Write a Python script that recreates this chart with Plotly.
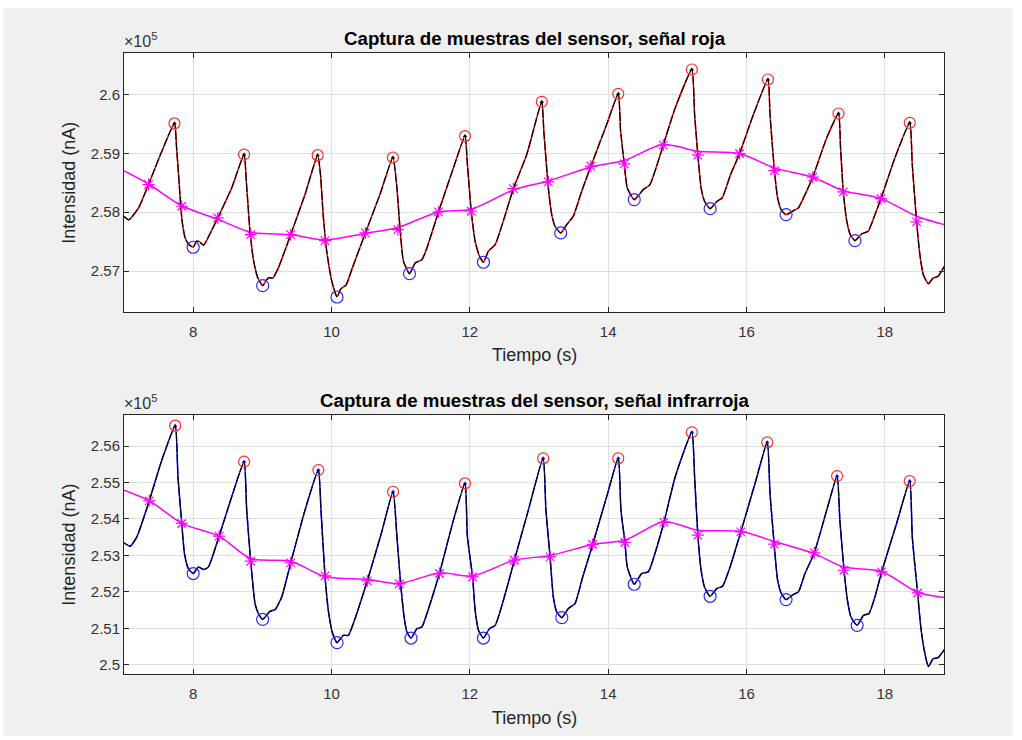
import plotly.graph_objects as go

# ---------------- Señal roja (nA) ----------------
t_roja = [7.00, 7.07, 7.21, 7.354, 7.547, 7.73, 7.76, 7.80, 7.84, 7.885, 7.93, 8.00,
          8.05, 8.09, 8.15, 8.25, 8.355, 8.557, 8.736, 8.77, 8.82, 8.87, 8.93, 9.005,
          9.06, 9.10, 9.15, 9.23, 9.41, 9.617, 9.80, 9.84, 9.88, 9.93, 10.00, 10.08,
          10.13, 10.17, 10.21, 10.30, 10.49, 10.70, 10.888, 10.946, 10.99, 11.04, 11.128,
          11.21, 11.307, 11.38, 11.547, 11.763, 11.93, 11.965, 12.02, 12.077, 12.14, 12.197,
          12.268, 12.366, 12.63, 12.823, 13.04, 13.07, 13.135, 13.184, 13.232, 13.314,
          13.40, 13.496, 13.617, 13.75, 13.978, 14.146, 14.18, 14.233, 14.276, 14.377,
          14.507, 14.604, 14.796, 14.97, 15.21, 15.25, 15.297, 15.344, 15.393, 15.474,
          15.576, 15.648, 15.77, 15.90, 16.10, 16.31, 16.34, 16.404, 16.45, 16.50, 16.572,
          16.68, 16.75, 16.846, 16.958, 17.16, 17.33, 17.36, 17.40, 17.45, 17.50, 17.568,
          17.665, 17.76, 17.857, 17.944, 18.146, 18.36, 18.397, 18.46, 18.507, 18.556, 18.63,
          18.70, 18.77, 18.86]
roja = [257930, 257870, 258073, 258469, 259037, 259510, 259100, 258450, 257850, 257560, 257460, 257405,
        257510, 257500, 257440, 257650, 257903, 258413, 258980, 258500, 257700, 257200, 256900, 256752,
        256850, 256890, 256880, 257050, 257619, 258300, 258970, 258650, 257950, 257350, 256850, 256560,
        256690, 256730, 256760, 257050, 257648, 258300, 258930, 258410, 257730, 257170, 256956,
        257138, 257194, 257393, 258005, 258753, 259293, 258810, 258017, 257507, 257252, 257150,
        257338, 257449, 258401, 258980, 259876, 259378, 258413, 257959, 257762, 257648,
        257789, 257932, 258357, 258782, 259490, 260012, 259378, 258821, 258413, 258214,
        258384, 258469, 259139, 259774, 260425, 259660, 258969, 258413, 258187, 258061,
        258187, 258243, 258640, 258997, 259660, 260255, 259660, 258707, 258243, 258044, 257959,
        258027, 258073, 258299, 258595, 259264, 259677, 259094, 258345, 257847, 257619, 257517,
        257631, 257677, 257959, 258231, 258923, 259519, 258810, 257835, 257279, 256939, 256786,
        256883, 256912, 257082]

t_picos_roja = [7.73, 8.736, 9.80, 10.888, 11.93, 13.04, 14.146, 15.21, 16.31, 17.33, 18.36]
picos_roja = [259510, 258980, 258970, 258930, 259293, 259876, 260012, 260425, 260255, 259677, 259519]
t_valles_roja = [8.00, 9.005, 10.08, 11.128, 12.197, 13.314, 14.377, 15.474, 16.572, 17.568]
valles_roja = [257405, 256752, 256560, 256956, 257150, 257648, 258214, 258061, 257959, 257517]

t_media = [7.354, 7.835, 8.355, 8.832, 9.41, 9.906, 10.49, 10.96, 11.547, 12.02, 12.63,
           13.135, 13.75, 14.233, 14.796, 15.297, 15.90, 16.404, 16.958, 17.40, 17.944, 18.46]
media_roja = [258469, 258102, 257903, 257619, 257619, 257517, 257648, 257704, 258005, 258017, 258401,
              258515, 258782, 258821, 259139, 258969, 258997, 258707, 258595, 258345, 258231, 257835]

t_linea = [7.00, 7.354, 7.835, 8.355, 8.832, 9.41, 9.906, 10.49, 10.96, 11.547, 12.02, 12.63,
           13.135, 13.75, 14.233, 14.796, 15.297, 15.90, 16.404, 16.958, 17.40, 17.944, 18.46, 18.86]
linea_roja = [258700, 258480, 258110, 257880, 257660, 257620, 257530, 257640, 257740, 258005, 258050, 258380,
              258530, 258770, 258880, 259150, 259037, 258997, 258753, 258595, 258367, 258231, 257932, 257789]

# ---------------- Señal infrarroja (nA) ----------------
t_ir = [7.00, 7.09, 7.186, 7.365, 7.547, 7.74, 7.78, 7.835, 7.874, 7.93, 8.00,
        8.077, 8.149, 8.22, 8.375, 8.557, 8.736, 8.774, 8.832, 8.895, 8.943, 9.005,
        9.11, 9.184, 9.28, 9.41, 9.617, 9.81, 9.848, 9.906, 9.954, 10.01, 10.08,
        10.17, 10.243, 10.315, 10.517, 10.72, 10.89, 10.946, 11.00, 11.05, 11.09, 11.15,
        11.235, 11.307, 11.38, 11.56, 11.763, 11.93, 11.965, 12.04, 12.077, 12.125, 12.197,
        12.283, 12.366, 12.485, 12.644, 12.846, 13.06, 13.10, 13.16, 13.207, 13.256, 13.33,
        13.424, 13.52, 13.632, 13.776, 13.978, 14.146, 14.185, 14.243, 14.276, 14.377,
        14.484, 14.58, 14.676, 14.806, 14.97, 15.21, 15.25, 15.297, 15.344, 15.393, 15.474,
        15.57, 15.653, 15.763, 15.918, 16.124, 16.30, 16.34, 16.40, 16.45, 16.50, 16.572,
        16.68, 16.75, 16.846, 16.98, 17.16, 17.31, 17.35, 17.41, 17.46, 17.51, 17.60,
        17.69, 17.77, 17.857, 17.954, 18.17, 18.36, 18.397, 18.474, 18.52, 18.57, 18.63,
        18.70, 18.77, 18.86]
ir = [253343, 253253, 253508, 254497, 255615, 256558, 255157, 253876, 253052, 252640, 252503,
      252684, 252613, 252684, 253527, 254607, 255569, 254242, 252841, 251679, 251404, 251247,
      251467, 251514, 251860, 252794, 254242, 255341, 254242, 252437, 251495, 250899, 250607,
      250808, 250808, 251129, 252300, 253601, 254745, 253508, 252220, 251310, 250899, 250734,
      250991, 251037, 251404, 252503, 253967, 254975, 253508, 252410, 251495, 250945, 250734,
      250991, 251082, 251769, 252868, 254242, 255662, 254242, 252959, 251860, 251448, 251294,
      251541, 251679, 252410, 253299, 254607, 255662, 254242, 253354, 252684, 252209,
      252503, 252547, 253052, 253904, 255157, 256376, 255157, 253555, 252593, 252135, 251879,
      252091, 252154, 252684, 253646, 254975, 256101, 254700, 253308, 252319, 251970, 251788,
      251934, 251997, 252503, 253069, 254242, 255176, 253967, 252593, 251769, 251310, 251082,
      251357, 251404, 251860, 252547, 253876, 255038, 253508, 251970, 251037, 250396, 249956,
      250168, 250195, 250415]

t_picos_ir = [7.74, 8.736, 9.81, 10.89, 11.93, 13.06, 14.146, 15.21, 16.30, 17.31, 18.36]
picos_ir = [256558, 255569, 255341, 254745, 254975, 255662, 255662, 256376, 256101, 255176, 255038]
t_valles_ir = [8.00, 9.005, 10.08, 11.15, 12.197, 13.33, 14.377, 15.474, 16.572, 17.60]
valles_ir = [252503, 251247, 250607, 250734, 250734, 251294, 252209, 251879, 251788, 251082]

t_media_ir = [7.365, 7.835, 8.375, 8.832, 9.41, 9.906, 10.517, 10.98, 11.56, 12.04, 12.644,
              13.16, 13.776, 14.243, 14.806, 15.297, 15.918, 16.40, 16.98, 17.41, 17.954, 18.474]
media_ir = [254497, 253876, 253527, 252841, 252794, 252437, 252300, 252220, 252503, 252410, 252868,
            252959, 253299, 253354, 253904, 253555, 253646, 253308, 253069, 252593, 252547, 251970]

t_linea_ir = [7.00, 7.365, 7.835, 8.375, 8.832, 9.41, 9.906, 10.517, 10.98, 11.56, 12.04, 12.644,
              13.16, 13.776, 14.243, 14.806, 15.297, 15.918, 16.40, 16.98, 17.41, 17.954, 18.474, 18.86]
linea_ir = [254791, 254500, 253880, 253530, 252915, 252840, 252420, 252340, 252230, 252520, 252440, 252870,
            253000, 253300, 253420, 253920, 253690, 253660, 253380, 253050, 252680, 252560, 251990, 251843]

# ---------------- Ejes ----------------
x_ticks = [8, 10, 12, 14, 16, 18]
y_ticks_roja = [257000, 258000, 259000, 260000]
y_labels_roja = ["2.57", "2.58", "2.59", "2.6"]
y_ticks_ir = [250000, 251000, 252000, 253000, 254000, 255000, 256000]
y_labels_ir = ["2.5", "2.51", "2.52", "2.53", "2.54", "2.55", "2.56"]

W, H = 1022, 740
FONT = "Liberation Sans, Arial, Helvetica, sans-serif"
AX_COLOR = "#262626"
GRID = "#dfdfdf"
FIG_BG = "#f0f0f0"

fig = go.Figure()


def add_panel(xa, ya, t, s, base_color, tp, vp, tv, vv, tm, vm, tl, vl, tri_color):
    # smoothed mean (magenta line)
    fig.add_trace(go.Scatter(x=tl, y=vl, mode="lines", xaxis=xa, yaxis=ya,
                             line=dict(color="#ff00ff", width=1.5, shape="spline", smoothing=0.8),
                             hoverinfo="skip", showlegend=False))
    # raw signal with a black dashed overlay
    fig.add_trace(go.Scatter(x=t, y=s, mode="lines", xaxis=xa, yaxis=ya,
                             line=dict(color=base_color, width=1.5, shape="spline", smoothing=0.5),
                             showlegend=False))
    fig.add_trace(go.Scatter(x=t, y=s, mode="lines", xaxis=xa, yaxis=ya,
                             line=dict(color="#000000", width=1.2, shape="spline", smoothing=0.5,
                                       dash="9px,2px"),
                             showlegend=False))
    # mean samples
    fig.add_trace(go.Scatter(x=tm, y=vm, mode="markers", xaxis=xa, yaxis=ya,
                             marker=dict(symbol="asterisk-open", size=10, color="#ff00ff",
                                         line=dict(color="#ff00ff", width=1.2)),
                             showlegend=False))
    # peaks
    fig.add_trace(go.Scatter(x=tp, y=vp, mode="markers", xaxis=xa, yaxis=ya,
                             marker=dict(symbol="triangle-up", size=4, color=tri_color),
                             showlegend=False))
    fig.add_trace(go.Scatter(x=tp, y=vp, mode="markers", xaxis=xa, yaxis=ya,
                             marker=dict(symbol="circle-open", size=11, color="#ff2a2a",
                                         line=dict(color="#ff2a2a", width=1.2)),
                             showlegend=False))
    # valleys
    fig.add_trace(go.Scatter(x=tv, y=vv, mode="markers", xaxis=xa, yaxis=ya,
                             marker=dict(symbol="circle-open", size=12, color="#2a2aff",
                                         line=dict(color="#2a2aff", width=1.2)),
                             showlegend=False))


add_panel("x", "y", t_roja, roja, "#ff0000", t_picos_roja, picos_roja,
          t_valles_roja, valles_roja, t_media, media_roja, t_linea, linea_roja, "#000000")
add_panel("x2", "y2", t_ir, ir, "#0000ff", t_picos_ir, picos_ir,
          t_valles_ir, valles_ir, t_media_ir, media_ir, t_linea_ir, linea_ir, "#0000cc")

axis_common = dict(showline=True, linecolor=AX_COLOR, linewidth=1, mirror="allticks",
                   ticks="inside", ticklen=5, tickcolor=AX_COLOR, tickwidth=1,
                   showgrid=True, gridcolor=GRID, gridwidth=1, zeroline=False,
                   tickfont=dict(family=FONT, size=15, color="#333333"))

x_dom = [124 / W, 944.3 / W]
top_dom = [1 - 312.3 / H, 1 - 53.3 / H]
bot_dom = [1 - 674.3 / H, 1 - 415 / H]

# thin white frame around the grey figure area
edges = [(0, W, 0, 8), (0, W, 736, H), (0, 3, 0, H), (1013, W, 0, H)]
shapes = [dict(type="rect", xref="paper", yref="paper", layer="below",
               x0=a / W, x1=b / W, y0=1 - d / H, y1=1 - c / H,
               fillcolor="#ffffff", line=dict(width=0)) for a, b, c, d in edges]

fig.update_layout(
    width=W, height=H, autosize=False,
    margin=dict(l=0, r=0, t=0, b=0),
    paper_bgcolor=FIG_BG, plot_bgcolor="#ffffff",
    xaxis=dict(domain=x_dom, range=[7.0, 18.86], tickvals=x_ticks, anchor="y",
               ticklabelstandoff=6, **axis_common),
    yaxis=dict(domain=top_dom, range=[256300, 260700], tickvals=y_ticks_roja,
               ticktext=y_labels_roja, anchor="x", **axis_common),
    xaxis2=dict(domain=x_dom, range=[7.0, 18.86], tickvals=x_ticks, anchor="y2",
                ticklabelstandoff=6, **axis_common),
    yaxis2=dict(domain=bot_dom, range=[249740, 256850], tickvals=y_ticks_ir,
                ticktext=y_labels_ir, anchor="x2", **axis_common),
    shapes=shapes,
)

ann = []
for title, yc in [("Captura de muestras del sensor, señal roja", 38),
                  ("Captura de muestras del sensor, señal infrarroja", 400)]:
    ann.append(dict(text="<b>" + title + "</b>", x=535 / W, y=1 - yc / H, xref="paper", yref="paper",
                    showarrow=False, xanchor="center", yanchor="middle",
                    font=dict(family=FONT, size=18.7, color="#000000")))
for yc in [(53.3 + 312.3) / 2, (415 + 674.3) / 2]:
    ann.append(dict(text="Intensidad (nA)", x=69 / W, y=1 - yc / H, xref="paper", yref="paper",
                    showarrow=False, textangle=-90, xanchor="center", yanchor="middle",
                    font=dict(family=FONT, size=18, color="#262626")))
for yc in [355, 718]:
    ann.append(dict(text="Tiempo (s)", x=534 / W, y=1 - yc / H, xref="paper", yref="paper",
                    showarrow=False, xanchor="center", yanchor="middle",
                    font=dict(family=FONT, size=18, color="#262626")))
for ytop in [53.3, 415]:
    ann.append(dict(text="×10<sup>5</sup>", x=122 / W, y=1 - (ytop - 1) / H, xref="paper", yref="paper",
                    showarrow=False, xanchor="left", yanchor="bottom",
                    font=dict(family=FONT, size=16, color="#333333")))
fig.update_layout(annotations=ann)

fig.write_html("out.html")
